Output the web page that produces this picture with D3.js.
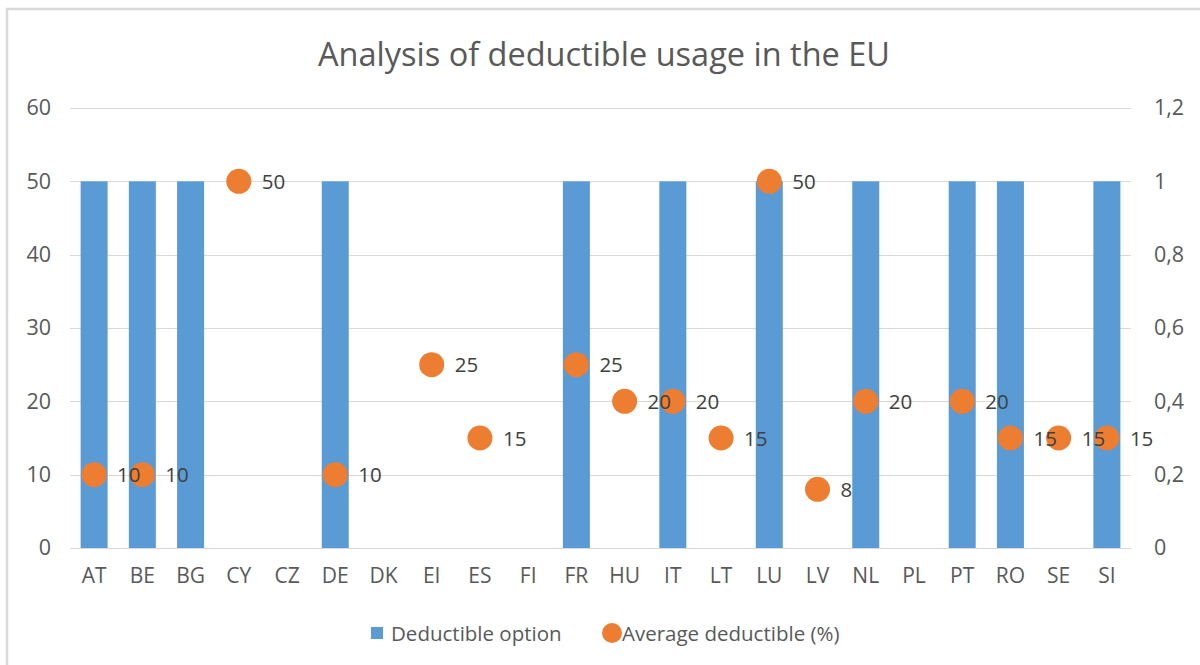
<!DOCTYPE html>
<html>
<head>
<meta charset="utf-8">
<script src="https://cdn.jsdelivr.net/npm/d3@7"></script>
<style>
  html, body { margin: 0; padding: 0; background: #fff; }
  svg { display: block; font-family: "Open Sans", "Liberation Sans", sans-serif; }
</style>
</head>
<body>
<svg id="chart" width="1200" height="665"></svg>
<script>
// Countries along the x axis
const countries = ["AT","BE","BG","CY","CZ","DE","DK","EI","ES","FI","FR","HU","IT","LT","LU","LV","NL","PL","PT","RO","SE","SI"];
// Deductible option offered (1 = yes), read on the right axis
const deductibleOption = [1,1,1,null,null,1,null,null,null,null,1,null,1,null,1,null,1,null,1,1,null,1];
// Average deductible in percent, read on the left axis
const averageDeductible = [10,10,null,50,null,10,null,25,15,null,25,20,20,15,50,8,20,null,20,15,15,15];
// Axis tick values
const leftTicks = [0,10,20,30,40,50,60];
const rightTicks = [0,0.2,0.4,0.6,0.8,1,1.2];

const title = "Analysis of deductible usage in the EU";
const seriesNames = ["Deductible option", "Average deductible (%)"];

const blue = "#5b9bd5", orange = "#ed7d31", textGrey = "#595959", labelGrey = "#404040";

const svg = d3.select("#chart");
const W = 1200, H = 665;
const plot = { left: 70, right: 1131, top: 108, bottom: 548 };

// frame edges
svg.append("line").attr("x1", 6).attr("x2", W).attr("y1", 9).attr("y2", 9)
  .attr("stroke", "#d9d9d9").attr("stroke-width", 2.5);
svg.append("line").attr("x1", 7).attr("x2", 7).attr("y1", 9).attr("y2", H)
  .attr("stroke", "#d9d9d9").attr("stroke-width", 2.5);

const x = d3.scaleBand().domain(countries).range([plot.left, plot.right]).paddingInner(0.44).paddingOuter(0.22);
const yL = d3.scaleLinear().domain([0, 60]).range([plot.bottom, plot.top]);
const yR = d3.scaleLinear().domain([0, 1.2]).range([plot.bottom, plot.top]);
const cx = c => x(c) + x.bandwidth() / 2;

// title
svg.append("text").attr("x", 604).attr("y", 66).attr("text-anchor", "middle")
  .attr("font-size", 32.5).attr("fill", textGrey).text(title);

// gridlines
svg.append("g").selectAll("line").data(leftTicks).join("line")
  .attr("x1", plot.left).attr("x2", plot.right)
  .attr("y1", d => Math.round(yL(d)) + 0.5).attr("y2", d => Math.round(yL(d)) + 0.5)
  .attr("stroke", "#d9d9d9").attr("stroke-width", 1);

function styleAxis(g) {
  g.attr("font-family", null).attr("font-size", null);
  g.select(".domain").remove();
  g.selectAll("text").attr("font-size", 21.5).attr("fill", textGrey);
}

// left axis
svg.append("g").attr("transform", `translate(${plot.left},0)`)
  .call(d3.axisLeft(yL).tickValues(leftTicks).tickSize(0).tickPadding(19))
  .call(styleAxis);

// right axis
const fmtR = d => String(d).replace(".", ",");
svg.append("g").attr("transform", `translate(${plot.right},0)`)
  .call(d3.axisRight(yR).tickValues(rightTicks).tickFormat(fmtR).tickSize(0).tickPadding(23))
  .call(styleAxis);

// bottom axis
const axB = svg.append("g").attr("transform", `translate(0,${plot.bottom})`)
  .call(d3.axisBottom(x).tickSize(0).tickPadding(20));
axB.attr("font-family", null).attr("font-size", null);
axB.select(".domain").attr("stroke", "#d9d9d9");
axB.selectAll("text").attr("font-size", 21).attr("fill", textGrey);

// bars: deductible option
const barData = countries.map((c, i) => ({ c, v: deductibleOption[i] })).filter(d => d.v != null);
svg.append("g").selectAll("rect").data(barData).join("rect")
  .attr("x", d => x(d.c)).attr("width", x.bandwidth())
  .attr("y", d => yR(d.v)).attr("height", d => yR(0) - yR(d.v))
  .attr("fill", blue);

// markers: average deductible
const ptData = countries.map((c, i) => ({ c, v: averageDeductible[i] })).filter(d => d.v != null);
const pts = svg.append("g");
pts.selectAll("circle").data(ptData).join("circle")
  .attr("cx", d => cx(d.c)).attr("cy", d => yL(d.v)).attr("r", 12.5)
  .attr("fill", orange);
pts.selectAll("text").data(ptData).join("text")
  .attr("x", d => cx(d.c) + 23).attr("y", d => yL(d.v) + 7.5)
  .attr("font-size", 20.5).attr("fill", labelGrey).text(d => d.v);

// legend
const lg = svg.append("g");
lg.append("rect").attr("x", 371).attr("y", 627).attr("width", 12).attr("height", 12).attr("fill", blue);
lg.append("text").attr("x", 391).attr("y", 641).attr("font-size", 20.5).attr("fill", textGrey).text(seriesNames[0]);
lg.append("circle").attr("cx", 612).attr("cy", 633).attr("r", 10).attr("fill", orange);
lg.append("text").attr("x", 622).attr("y", 641).attr("font-size", 20.5).attr("fill", textGrey).text(seriesNames[1]);
</script>
</body>
</html>
